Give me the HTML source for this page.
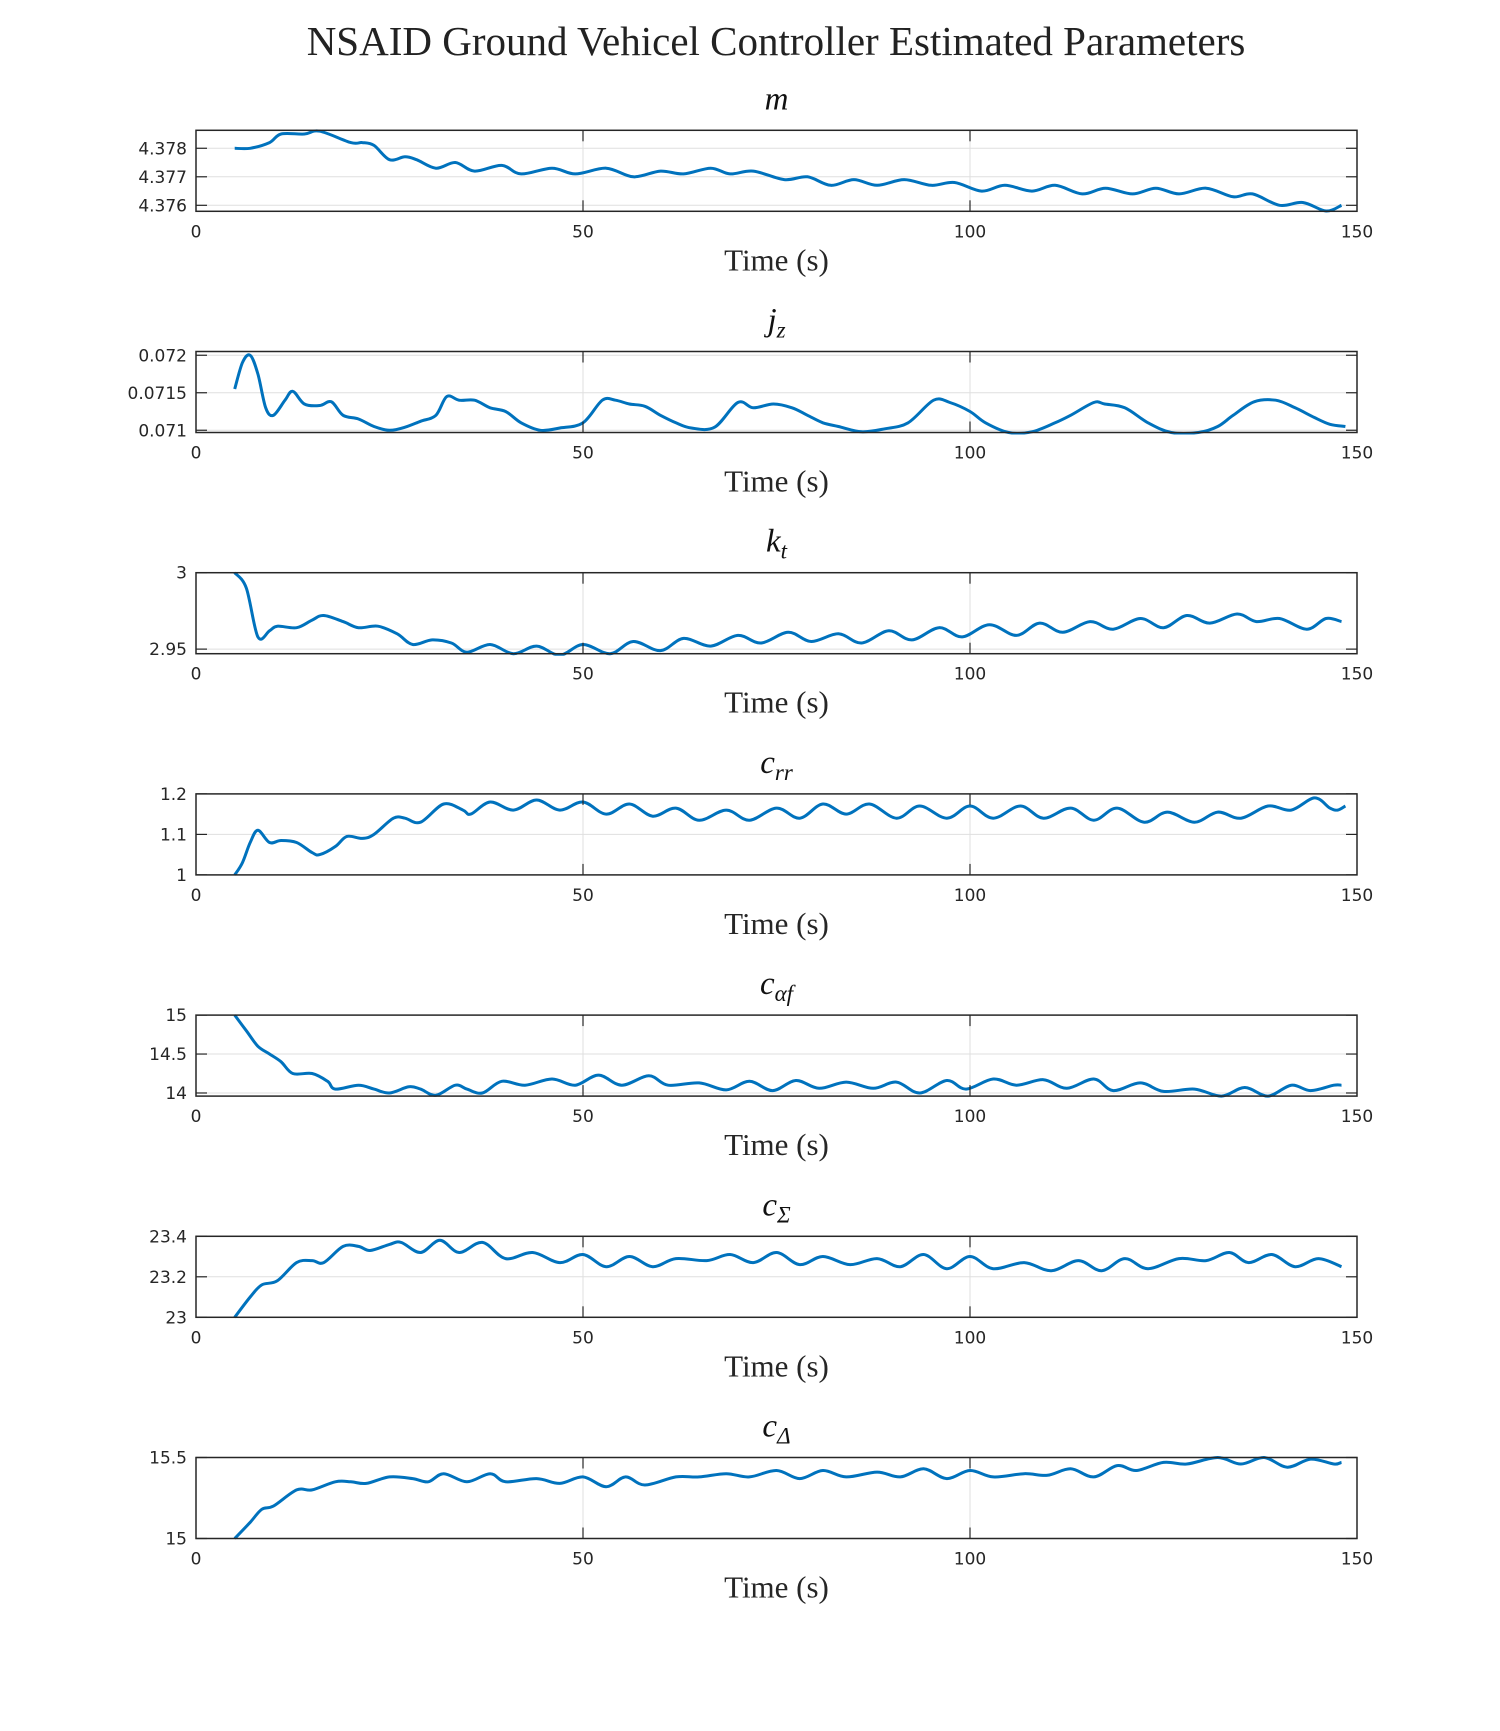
<!DOCTYPE html>
<html><head><meta charset="utf-8"><style>
html,body{margin:0;padding:0;background:#fff;}
svg{display:block;}
</style></head><body>
<svg id="fig" width="1500" height="1731" viewBox="0 0 1500 1731" xmlns="http://www.w3.org/2000/svg">
<text x="776" y="55" text-anchor="middle" font-family="Liberation Serif, serif" font-size="41" fill="#222">NSAID Ground Vehicel Controller Estimated Parameters</text>
</svg>
<script>
const xTicks = [0, 50, 100, 150];
const mT = [5,7,9.5,11,14,16,20,21.5,23,25,27,28.5,31,33.5,36,39.5,42,46,49,53,56.5,60,63,66.5,69,72,76,79,82,85,88,91.5,95,98,101.5,104.5,108,111,114.5,117.5,121,124,127,130.5,134,136.5,140,143,146,148];
const mV = [4.378,4.378,4.3782,4.3785,4.3785,4.3786,4.3782,4.3782,4.3781,4.3776,4.3777,4.3776,4.3773,4.3775,4.3772,4.3774,4.3771,4.3773,4.3771,4.3773,4.377,4.3772,4.3771,4.3773,4.3771,4.3772,4.3769,4.377,4.3767,4.3769,4.3767,4.3769,4.3767,4.3768,4.3765,4.3767,4.3765,4.3767,4.3764,4.3766,4.3764,4.3766,4.3764,4.3766,4.3763,4.3764,4.376,4.3761,4.3758,4.376];
const jT = [5,6,7,8,9,10,11.5,12.5,14,16,17.5,19,21,23,25,27,29,31,32.4,34,36,38,40,42,44.5,47,50,52.5,54.2,56,58,60,62,64,67,70,72,74.6,77,79,81,83,86,89,92,95.3,97.4,100,102,105,108,111,113,116,117.4,120,123,126,129.5,132,134,136.7,139.5,142,144.5,146.5,148.5];
const jV = [0.07155,0.0719,0.0720,0.07175,0.0713,0.0712,0.0714,0.07152,0.07135,0.07133,0.07138,0.0712,0.07115,0.07105,0.071,0.07104,0.07112,0.0712,0.07145,0.0714,0.0714,0.0713,0.07125,0.0711,0.071,0.07103,0.0711,0.0714,0.0714,0.07135,0.07132,0.0712,0.0711,0.07103,0.07104,0.07137,0.0713,0.07135,0.0713,0.0712,0.0711,0.07105,0.07098,0.07102,0.0711,0.0714,0.07137,0.07125,0.0711,0.07097,0.07098,0.0711,0.0712,0.07137,0.07135,0.0713,0.0711,0.07097,0.07097,0.07105,0.0712,0.07138,0.0714,0.0713,0.07117,0.07108,0.07105];
const kT = [5,6.5,8,9.5,10.5,13,15,16.5,19,21,23.5,26,28,30.5,33,35,38,41,44,47,50,53.5,56.5,60,63,66.5,70,73,76.5,79.5,83,86,89.5,92.5,96,99,102.5,106,109,112,115.5,118.5,122,125,128,131,134.5,137,140,143.5,146,148];
const kV = [3.0,2.99,2.958,2.962,2.965,2.964,2.969,2.972,2.968,2.964,2.965,2.96,2.953,2.956,2.954,2.948,2.953,2.947,2.952,2.946,2.953,2.947,2.955,2.949,2.957,2.952,2.959,2.954,2.961,2.955,2.96,2.954,2.962,2.956,2.964,2.958,2.966,2.959,2.967,2.961,2.968,2.963,2.97,2.964,2.972,2.967,2.973,2.968,2.97,2.963,2.97,2.968];
const cT = [5,6,7,8,9.5,11,13,15,16,18,19.5,21.5,23,25.5,27,29,32,34.5,35.5,38,41,44,47,50,53,56,59,62,65,68.5,71.5,75,78,81,84,87,90.5,93.5,97,100,103,106.5,109.5,113,116,119,122.5,125.5,129,132,135,138.5,141.5,144.5,146.5,147.5,148.5];
const cV = [1.0,1.03,1.08,1.11,1.08,1.085,1.08,1.055,1.05,1.07,1.095,1.09,1.1,1.14,1.14,1.13,1.175,1.16,1.15,1.18,1.16,1.185,1.16,1.18,1.15,1.175,1.145,1.165,1.135,1.16,1.135,1.165,1.14,1.175,1.15,1.175,1.14,1.17,1.14,1.17,1.14,1.17,1.14,1.165,1.135,1.165,1.13,1.155,1.13,1.155,1.14,1.17,1.16,1.19,1.165,1.16,1.17];
const aT = [5,6.5,8,9.5,11,12.5,15,17,18,21,23,25,27.5,29,31,33.5,35,37,39.5,42.5,46,49,52,55,58.5,61,65,68.5,71.5,74.5,77.5,80.5,84,87.5,90.5,93.5,97,99.5,103,106,109.5,112.5,116,118.5,122,125,129,132.5,135.5,138.5,141.5,144,147,148];
const aV = [15,14.8,14.6,14.5,14.4,14.25,14.25,14.15,14.05,14.1,14.05,14.0,14.08,14.05,13.97,14.1,14.05,14.0,14.15,14.1,14.18,14.1,14.23,14.1,14.22,14.1,14.13,14.04,14.15,14.03,14.16,14.06,14.14,14.06,14.14,14.0,14.16,14.05,14.18,14.1,14.17,14.06,14.18,14.03,14.13,14.02,14.05,13.96,14.07,13.96,14.1,14.03,14.1,14.1];
const sT = [5,7,8.5,10.5,13,15,16.5,19,21,22.5,25,26.5,29,31.5,34,37,40,43.5,47,50,53,56,59,62,66,69,72,75,78,81,84.5,88,91,94,97,100,103,107,110.5,114,117,120,123,127,130.5,133.5,136,139,142,145,148];
const sV = [23.0,23.1,23.16,23.18,23.27,23.28,23.27,23.35,23.35,23.33,23.36,23.37,23.32,23.38,23.32,23.37,23.29,23.32,23.27,23.31,23.25,23.3,23.25,23.29,23.28,23.31,23.27,23.32,23.26,23.3,23.26,23.29,23.25,23.31,23.24,23.3,23.24,23.27,23.23,23.28,23.23,23.29,23.24,23.29,23.28,23.32,23.27,23.31,23.25,23.29,23.25];
const dT = [5,7,8.5,10,13,15,18,20,22,25,28,30,32,35,38,40,44,47,50,53,55.5,58,62,65,68.5,71.5,75,78,81,84,88,91,94,97,100,103,107,110,113,116,119,121.5,125,128,132,135,138,141,144,147,148];
const dV = [15.0,15.1,15.18,15.2,15.3,15.3,15.35,15.35,15.34,15.38,15.37,15.35,15.4,15.35,15.4,15.35,15.37,15.34,15.38,15.32,15.38,15.33,15.38,15.38,15.4,15.38,15.42,15.37,15.42,15.38,15.41,15.38,15.43,15.37,15.42,15.38,15.4,15.39,15.43,15.38,15.45,15.42,15.47,15.46,15.5,15.46,15.5,15.44,15.49,15.46,15.47];
const mTicks = [4.376, 4.377, 4.378], mTickLabels = ['4.376','4.377','4.378'];
const jTicks = [0.071, 0.0715, 0.072], jTickLabels = ['0.071','0.0715','0.072'];
const kTicks = [2.95, 3], kTickLabels = ['2.95','3'];
const cTicks = [1, 1.1, 1.2], cTickLabels = ['1','1.1','1.2'];
const aTicks = [14, 14.5, 15], aTickLabels = ['14','14.5','15'];
const sTicks = [23, 23.2, 23.4], sTickLabels = ['23','23.2','23.4'];
const dTicks = [15, 15.5], dTickLabels = ['15','15.5'];

const panels = [
 {name:'m', main:'m', sub:'', t:mT, v:mV, ylim:[4.37579,4.37863], ticks:mTicks, labels:mTickLabels},
 {name:'jz', main:'j', sub:'z', t:jT, v:jV, ylim:[0.07097,0.07205], ticks:jTicks, labels:jTickLabels},
 {name:'kt', main:'k', sub:'t', t:kT, v:kV, ylim:[2.947,3.0], ticks:kTicks, labels:kTickLabels},
 {name:'crr', main:'c', sub:'rr', t:cT, v:cV, ylim:[1,1.2], ticks:cTicks, labels:cTickLabels},
 {name:'c-alpha-f', main:'c', sub:'αf', t:aT, v:aV, ylim:[13.96,15], ticks:aTicks, labels:aTickLabels},
 {name:'c-sigma', main:'c', sub:'Σ', t:sT, v:sV, ylim:[23,23.4], ticks:sTicks, labels:sTickLabels},
 {name:'c-delta', main:'c', sub:'Δ', t:dT, v:dV, ylim:[15,15.5], ticks:dTicks, labels:dTickLabels}
];
const NS='http://www.w3.org/2000/svg';
const svg=document.getElementById('fig');
const L=196, W=1161, H=81, TOP0=130.3, STEP=221.2;
function mk(tag, attrs, parent){const e=document.createElementNS(NS,tag);for(const k in attrs)e.setAttribute(k,attrs[k]);(parent||svg).appendChild(e);return e;}
panels.forEach((p,i)=>{
  const top=TOP0+STEP*i;
  const g=mk('g',{});
  
  
  const xs=t=>L+t/150*W;
  const ys=v=>top+H-(v-p.ylim[0])/(p.ylim[1]-p.ylim[0])*H;
  xTicks.slice(1,3).forEach(t=>{const l=mk('line',{x1:xs(t),x2:xs(t),y1:top,y2:top+H,stroke:'#dfdfdf','stroke-width':1},g);
    
    });
  p.ticks.forEach(v=>{const y=ys(v);if(y>top+1&&y<top+H-1){const l=mk('line',{x1:L,x2:L+W,y1:y,y2:y,stroke:'#dfdfdf','stroke-width':1},g);
    
    }});
  const P=p.t.map((t,k)=>[xs(t),ys(p.v[k])]);
  let d='M'+P[0][0].toFixed(1)+','+P[0][1].toFixed(1);
  for(let k=0;k<P.length-1;k++){const p0=P[k-1]||P[k],p1=P[k],p2=P[k+1],p3=P[k+2]||P[k+1];
    const c1=[p1[0]+(p2[0]-p0[0])/6,p1[1]+(p2[1]-p0[1])/6],c2=[p2[0]-(p3[0]-p1[0])/6,p2[1]-(p3[1]-p1[1])/6];
    d+=' C'+c1[0].toFixed(1)+','+c1[1].toFixed(1)+' '+c2[0].toFixed(1)+','+c2[1].toFixed(1)+' '+p2[0].toFixed(1)+','+p2[1].toFixed(1);}
  const cp=mk('clipPath',{id:'clip'+i},g);mk('rect',{x:L,y:top-2,width:W,height:H+4},cp);
  const path=mk('path',{d:d,fill:'none',stroke:'#0072BD','stroke-width':3,'stroke-linejoin':'round','clip-path':'url(#clip'+i+')'},g);
  
  
  const box=mk('rect',{x:L,y:top,width:W,height:H,fill:'none',stroke:'#262626','stroke-width':1.5},g);
  
  
  xTicks.forEach(t=>{const x=xs(t);
    if(t>0&&t<150){mk('line',{x1:x,x2:x,y1:top+H,y2:top+H-11,stroke:'#262626','stroke-width':1.2},g);mk('line',{x1:x,x2:x,y1:top,y2:top+11,stroke:'#262626','stroke-width':1.2},g);}
    const tx=mk('text',{x:x,y:top+H+26,'text-anchor':'middle','font-family':'DejaVu Sans, Liberation Sans, sans-serif','font-size':17,fill:'#262626'},g);
    tx.textContent=t;
    
    });
  p.ticks.forEach((v,k)=>{const y=ys(v);
    mk('line',{x1:L,x2:L+11,y1:y,y2:y,stroke:'#262626','stroke-width':1.2},g);
    mk('line',{x1:L+W,x2:L+W-11,y1:y,y2:y,stroke:'#262626','stroke-width':1.2},g);
    const tx=mk('text',{x:L-9,y:y+6,'text-anchor':'end','font-family':'DejaVu Sans, Liberation Sans, sans-serif','font-size':17,fill:'#262626'},g);
    tx.textContent=p.labels[k];
    
    });
  const xl=mk('text',{x:L+W/2,y:top+H+59,'text-anchor':'middle','font-family':'Liberation Serif, serif','font-size':31,fill:'#262626'},g);
  xl.textContent='Time (s)';
  
  
  const st=mk('text',{x:L+W/2,y:top-21,'text-anchor':'middle','font-family':'Liberation Serif, serif','font-size':33,'font-style':'italic',fill:'#111'},g);
  
  
  const t1=mk('tspan',{},st);t1.textContent=p.main;
  if(p.sub){const t2=mk('tspan',{'font-size':23,dy:7},st);t2.textContent=p.sub;}
});
</script>
</body></html>
